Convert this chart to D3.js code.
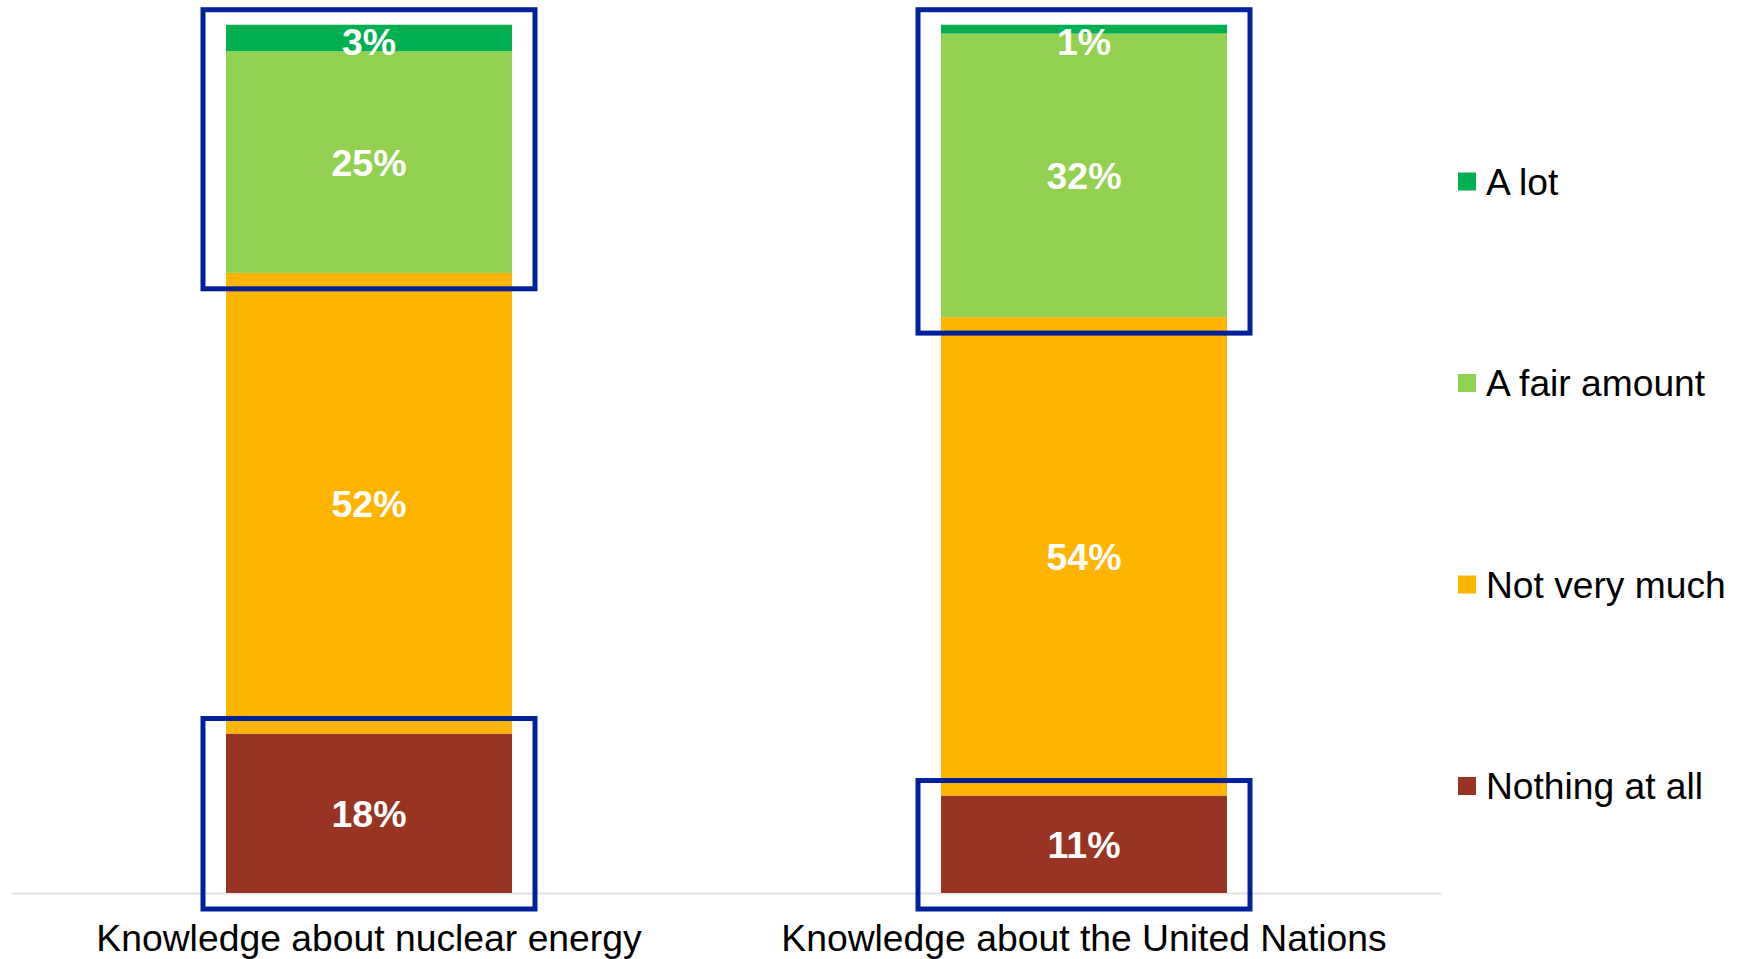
<!DOCTYPE html>
<html>
<head>
<meta charset="utf-8">
<script src="https://cdn.jsdelivr.net/npm/d3@7"></script>
<style>
  html, body { margin: 0; padding: 0; background: #fff; }
  svg { display: block; font-family: "Liberation Sans", Arial, sans-serif; }
</style>
</head>
<body>
<div id="chart"></div>
<script>
// Stacked bars: knowledge levels (percent), bottom to top stacking order
var categories = ["Knowledge about nuclear energy", "Knowledge about the United Nations"];
var series = ["Nothing at all", "Not very much", "A fair amount", "A lot"];
var nothingAtAll = [18, 11];
var notVeryMuch = [52, 54];
var fairAmount = [25, 32];
var aLot = [3, 1];
var colors = ["#993324", "#FFB400", "#92D050", "#00B050"];

// annotation boxes: which segments are outlined in blue
var highlights = [
  {cat: 0, from: "A fair amount", to: "A lot"},
  {cat: 1, from: "A fair amount", to: "A lot"},
  {cat: 0, from: "Nothing at all", to: "Nothing at all"},
  {cat: 1, from: "Nothing at all", to: "Nothing at all"}
];

var width = 1746;
var height = 959;

// build rows for d3.stack
var rows = categories.map((c, i) => ({
  category: c,
  "Nothing at all": nothingAtAll[i],
  "Not very much": notVeryMuch[i],
  "A fair amount": fairAmount[i],
  "A lot": aLot[i]
}));

var stacked = d3.stack().keys(series)(rows);

var x = d3.scaleBand()
    .domain(categories)
    .range([11.5, 1441.5])
    .paddingInner(0.6)
    .paddingOuter(0.3);

var y = d3.scaleLinear()
    .domain([0, 100])
    .range([893, 7]);

var color = d3.scaleOrdinal().domain(series).range(colors);

var svg = d3.select("#chart")
  .append("svg")
  .attr("width", width)
  .attr("height", height);

// baseline
svg.append("line")
    .attr("x1", x.range()[0])
    .attr("x2", x.range()[1])
    .attr("y1", y(0) + 0.5)
    .attr("y2", y(0) + 0.5)
    .attr("stroke", "#e3e3e3")
    .attr("stroke-width", 2);

var layer = svg.append("g")
  .selectAll("g")
  .data(stacked)
  .join("g")
    .attr("fill", d => color(d.key));

layer.selectAll("rect")
  .data(d => d)
  .join("rect")
    .attr("x", d => x(d.data.category))
    .attr("width", x.bandwidth())
    .attr("y", d => y(d[1]))
    .attr("height", d => y(d[0]) - y(d[1]));

// value labels
stacked.forEach(s => {
  svg.append("g")
    .selectAll("text")
    .data(s)
    .join("text")
      .attr("x", d => x(d.data.category) + x.bandwidth() / 2)
      .attr("y", d => {
        var mid = (y(d[0]) + y(d[1])) / 2;
        var top = y(d3.sum(series, k => d.data[k]));
        return Math.max(mid, top + 16);
      })
      .attr("dy", "0.37em")
      .attr("text-anchor", "middle")
      .attr("fill", "#fff")
      .attr("font-weight", "bold")
      .attr("font-size", 37.5)
      .text(d => (d[1] - d[0]) + "%");
});

// blue highlight boxes
var padX = 23, padTop = 15, padBottom = 16;
svg.append("g")
  .selectAll("rect")
  .data(highlights)
  .join("rect")
    .attr("x", d => x(categories[d.cat]) - padX)
    .attr("width", x.bandwidth() + 2 * padX)
    .attr("y", d => {
      var s = stacked[series.indexOf(d.to)][d.cat];
      return y(s[1]) - padTop;
    })
    .attr("height", d => {
      var top = stacked[series.indexOf(d.to)][d.cat][1];
      var bottom = stacked[series.indexOf(d.from)][d.cat][0];
      return y(bottom) - y(top) + padTop + padBottom;
    })
    .attr("fill", "none")
    .attr("stroke", "#00209A")
    .attr("stroke-width", 5);

// category labels
svg.append("g")
  .selectAll("text")
  .data(categories)
  .join("text")
    .attr("x", d => x(d) + x.bandwidth() / 2)
    .attr("y", 951)
    .attr("text-anchor", "middle")
    .attr("font-size", 37.3)
    .attr("fill", "#000")
    .text(d => d);

// legend (top to bottom: A lot ... Nothing at all)
var legendOrder = series.slice().reverse();
var ly = d3.scalePoint().domain(legendOrder).range([181.5, 786]);

var legend = svg.append("g")
  .selectAll("g")
  .data(legendOrder)
  .join("g")
    .attr("transform", d => `translate(1458,${ly(d)})`);

legend.append("rect")
    .attr("x", 0)
    .attr("y", -9)
    .attr("width", 18)
    .attr("height", 18)
    .attr("fill", d => color(d));

legend.append("text")
    .attr("x", 28)
    .attr("dy", "0.35em")
    .attr("font-size", 37.2)
    .attr("fill", "#000")
    .text(d => d);
</script>
</body>
</html>
